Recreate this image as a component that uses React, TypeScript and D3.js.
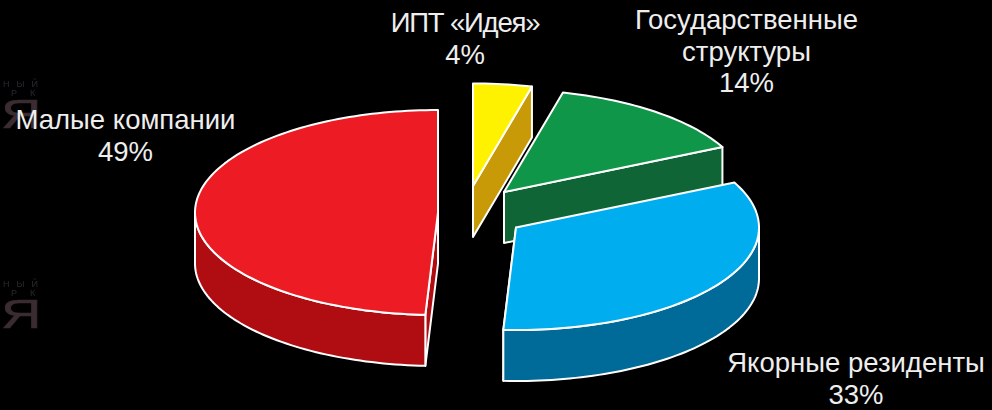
import React from "react";
import * as d3 from "d3";

const WIDTH = 992;
const HEIGHT = 410;

const categories = ["ИПТ «Идея»", "Государственные структуры", "Якорные резиденты", "Малые компании"];
// measured from the wedges, the labels round them to 4, 14, 33 and 49
const shares = [3.9, 13.88, 33.05, 49.17];
const topColors = ["#fff200", "#0f9648", "#00aeef", "#ed1c24"];
const sideColors = ["#c99a08", "#0f6535", "#006a99", "#b00d13"];

// where each exploded wedge sits on the picture
const centres = [
  [473, 186],
  [504, 192],
  [516, 227.5],
  [438, 212.5],
];
const labelLines = [
  { text: ["ИПТ «Идея»", "4%"], x: 465, y: 32 },
  { text: ["Государственные", "структуры", "14%"], x: 746.5, y: 29 },
  { text: ["Якорные резиденты", "33%"], x: 856, y: 372 },
  { text: ["Малые компании", "49%"], x: 125.5, y: 129 },
];

const RX = 243;
const RY = 102.5;
const DEPTH = 51;

const slices = d3.pie<number>().sort(null)(shares);

const project = (c: number[], angle: number, drop = 0): [number, number] => [
  c[0] + RX * Math.sin(angle),
  c[1] - RY * Math.cos(angle) + drop,
];

const arcPoints = (c: number[], from: number, to: number, drop = 0) => {
  const steps = Math.max(2, Math.ceil(Math.abs(to - from) * 40));
  return d3.range(steps + 1).map((i) => project(c, from + ((to - from) * i) / steps, drop));
};

const line = d3.line();

const topPath = (c: number[], a0: number, a1: number) =>
  line([c as [number, number], ...arcPoints(c, a0, a1)]) + "Z";

// outer rim, only the part facing the viewer
const rimPath = (c: number[], a0: number, a1: number) => {
  const from = Math.max(a0, Math.PI / 2);
  const to = Math.min(a1, (3 * Math.PI) / 2);
  if (to <= from) return null;
  return line([...arcPoints(c, from, to), ...arcPoints(c, to, from, DEPTH)]) + "Z";
};

// the cut face at the end of a wedge
const facePath = (c: number[], a: number) => {
  const p = project(c, a);
  return line([c as [number, number], p, [p[0], p[1] + DEPTH], [c[0], c[1] + DEPTH]]) + "Z";
};

const Watermark = ({ y }: { y: number }) => (
  <g transform={`translate(0,${y})`} fontFamily="Liberation Sans" style={{ filter: "blur(0.5px)" }}>
    <text x={3} y={7} fontSize={9} letterSpacing={7} fill="#2b2730">НЫЙ</text>
    <text x={11} y={16} fontSize={9} letterSpacing={13} fill="#2b2730">РК</text>
    <text transform="translate(1,48) scale(1.4,1)" fontSize={40} fill="#3a2c30" stroke="#3a2c30" strokeWidth={0.6}>Я</text>
  </g>
);

export default function App() {
  // red goes first, then the wedges clockwise from the top
  const order = [3, 0, 1, 2];
  return (
    <svg width={WIDTH} height={HEIGHT} style={{ position: "fixed", left: 0, top: 0, background: "#000" }}>
      <rect width={WIDTH} height={HEIGHT} fill="#000" />
      <Watermark y={80} />
      <Watermark y={280} />
      {order.map((i) => {
        const s = slices[i];
        const c = centres[i];
        const rim = rimPath(c, s.startAngle, s.endAngle);
        return (
          <g key={categories[i]} stroke="#fff" strokeWidth={2} strokeLinejoin="round">
            {s.endAngle < Math.PI * 2 && <path d={facePath(c, s.endAngle)} fill={sideColors[i]} />}
            {i === 3 && <path d={facePath(c, s.startAngle)} fill={sideColors[i]} />}
            {rim && <path d={rim} fill={sideColors[i]} />}
            <path d={topPath(c, s.startAngle, s.endAngle)} fill={topColors[i]} />
          </g>
        );
      })}
      {labelLines.map((l) => (
        <text key={l.text[0]} x={l.x} y={l.y} textAnchor="middle" fill="#eeeeee" fontFamily="Liberation Sans" fontSize={27.5}>
          {l.text.map((t, j) => (
            <tspan key={t} x={l.x} dy={j === 0 ? 0 : 31.5} letterSpacing={t.startsWith("ИПТ") ? -1.2 : 0}>{t}</tspan>
          ))}
        </text>
      ))}
    </svg>
  );
}
